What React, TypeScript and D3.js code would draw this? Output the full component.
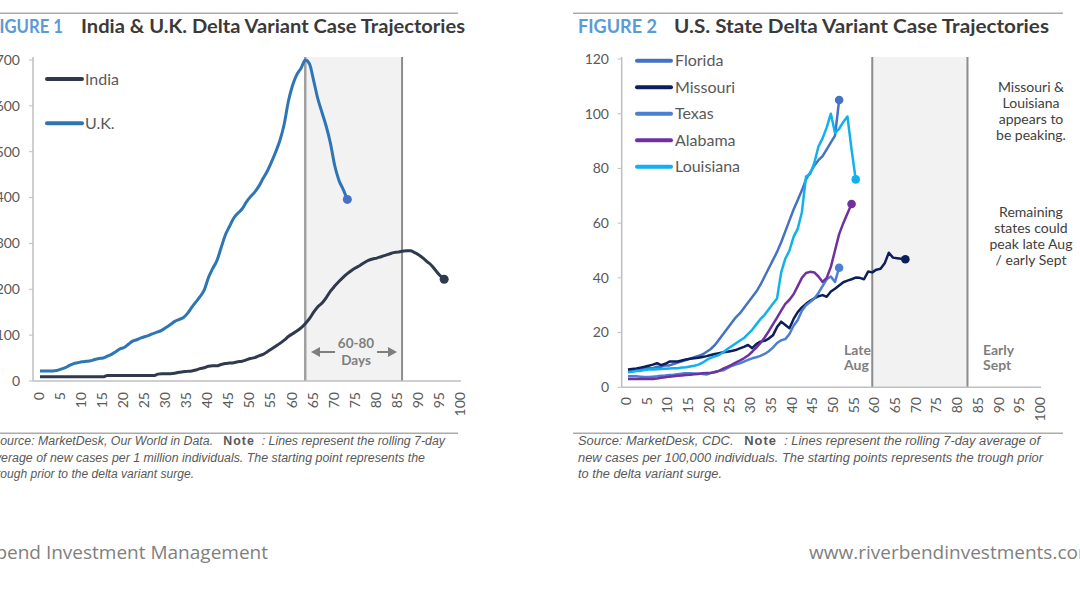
import React from 'react';
import * as d3 from 'd3';

type Pt = [number, number];

// ---------- data ----------
const xTickValues = [0, 5, 10, 15, 20, 25, 30, 35, 40, 45, 50, 55, 60, 65, 70, 75, 80, 85, 90, 95, 100];
const fig1YTicks = [0, 100, 200, 300, 400, 500, 600, 700];
const fig2YTicks = [0, 20, 40, 60, 80, 100, 120];

// Figure 1: rolling 7-day avg new cases per 1M, day 0 = trough
const ukCases = [
  22, 22, 22, 22, 23, 26, 29, 34, 38, 40,
  42, 43, 44, 47, 49, 50, 54, 58, 64, 70,
  73, 80, 87, 90, 94, 97, 100, 104, 107, 111,
  117, 123, 130, 134, 138, 147, 160, 172, 184, 198,
  225, 245, 262, 290, 318, 337, 355, 366, 375, 390,
  402, 412, 425, 442, 458, 478, 500, 525, 560, 610,
  645, 668, 682, 700, 692, 655, 615, 585, 555, 518,
  470, 438, 418, 396,
];
const indiaCases = [
  9, 9, 9, 9, 9, 9, 9, 9, 9, 9,
  9, 9, 9, 9, 9, 9, 12, 12, 12, 12,
  12, 12, 12, 12, 12, 12, 12, 12, 15, 16,
  16, 16, 17, 19, 20, 21, 22, 24, 27, 29,
  32, 33, 33, 36, 38, 39, 40, 42, 43, 46,
  49, 51, 55, 58, 64, 70, 76, 82, 89, 97,
  103, 109, 116, 125, 136, 150, 162, 170, 182, 196,
  207, 217, 226, 234, 241, 247, 252, 258, 263, 266,
  268, 271, 274, 277, 280, 281, 283, 284, 284, 280,
  275, 268, 260, 252, 241, 230, 222,
];
const fig1Band = [63, 86];

// Figure 2: rolling 7-day avg new cases per 100k
const floridaCases = [
  6, 6, 6, 6.5, 7, 7, 7, 7.5, 7.5, 8,
  8, 8.5, 9, 9.5, 10, 10.5, 11, 11.5, 12, 13,
  14, 15.5, 17.5, 19.5, 21.5, 23.5, 25.5, 27, 29, 31,
  33, 35, 37.5, 40.5, 43.5, 46.5, 49.5, 53, 57, 61,
  65, 68.5, 72, 76, 78.5, 81, 83, 84.5, 87, 89.5,
  92, 105,
];
const missouriCases = [
  6.5, 6.7, 6.9, 7.2, 7.5, 7.9, 8.3, 8.8, 8.1, 8.6,
  9.4, 9.4, 9.4, 9.8, 10.2, 10.4, 10.6, 10.8, 11.1, 11.4,
  11.8, 12.2, 12.5, 12.8, 13, 13.3, 13.6, 14.2, 14.8, 15.5,
  14.3, 15.8, 16.7, 17, 17.8, 19, 22, 24, 22.8, 21.6,
  25, 27.5, 29.2, 30.5, 31.6, 32.5, 33.3, 33.7, 33.1, 35,
  36, 37.2, 38.4, 39, 39.5, 40.1, 40, 39.5, 42.3, 42,
  43, 43.3, 45.3, 49.2, 47.4, 47.2, 47, 46.8,
];
const texasCases = [
  4, 4, 4, 3.9, 3.8, 3.8, 3.9, 4, 4.2, 4.3,
  4.5, 4.6, 4.8, 5, 5.1, 5.1, 5, 5, 4.9, 4.7,
  5.2, 5.7, 6, 6.2, 7, 7.8, 8.3, 8.8, 9.4, 10,
  10.6, 11, 11.5, 12.2, 13.2, 14.5, 16.2, 17.2, 17.6, 19.5,
  22.5, 24.6, 28, 30, 31.2, 32.5, 34.5, 37, 39.5, 40.5,
  38.5, 43.7,
];
const alabamaCases = [
  3, 3, 3, 3, 3, 3, 3, 3.2, 3.5, 3.7,
  3.9, 4, 4.2, 4.3, 4.5, 4.6, 4.8, 4.9, 5.1, 5.2,
  5.3, 5.5, 6, 6.8, 7.5, 8.2, 9, 9.8, 10.6, 11.6,
  13, 14.5, 16.2, 18.2, 20.5, 23, 25.5, 28, 30.5, 32,
  34, 37, 40, 41.8, 42.2, 42, 40.5, 38.5, 40, 44,
  50, 56, 60, 63.5, 67,
];
const louisianaCases = [
  5.5, 5.7, 6, 6, 6.3, 6.5, 6.5, 6.6, 6.7, 6.8,
  6.9, 7, 7, 7.2, 7.3, 7.6, 7.9, 8.3, 9, 10,
  10.8, 11.3, 11.8, 12.8, 14, 15, 16, 17, 18, 19.5,
  21, 23, 25, 26.5, 28.5, 30.5, 32.5, 42, 47, 50,
  55, 58, 64, 77, 78, 82, 88, 91, 95, 100,
  93, 94.5, 97, 99, 87, 76,
];
const fig2Band = [59, 82];

const fig1Series = [
  { name: 'India', values: indiaCases, color: '#2F3A4F' },
  { name: 'U.K.', values: ukCases, color: '#2E75B6' },
];
const fig2Series = [
  { name: 'Florida', values: floridaCases, color: '#4472C4' },
  { name: 'Missouri', values: missouriCases, color: '#0C1E5B' },
  { name: 'Texas', values: texasCases, color: '#4C7ED3' },
  { name: 'Alabama', values: alabamaCases, color: '#7030A0' },
  { name: 'Louisiana', values: louisianaCases, color: '#11B0EE' },
];

const toPts = (vals: number[]): Pt[] => vals.map((v, i) => [i, v] as Pt);

const GOTHIC = "Lato, 'DejaVu Sans', sans-serif";
const ARIAL = "'Liberation Sans', Arial, sans-serif";
const FOOT = "'Open Sans', 'Noto Sans', sans-serif";
const LABEL = '#595959';
const AXIS = '#BFBFBF';

function ArrowHead({ x, y, dir }: { x: number; y: number; dir: number }) {
  const p = `M${x},${y} L${x - dir * 9},${y - 5} L${x - dir * 9},${y + 5} Z`;
  return <path d={p} fill="#7F7F7F" />;
}

function Figure1() {
  const x = d3.scaleLinear().domain([0, 100]).range([40, 461]);
  const y = d3.scaleLinear().domain([0, 700]).range([381, 60]);
  const line = d3.line<Pt>().x((d) => x(d[0])).y((d) => y(d[1])).curve(d3.curveMonotoneX);
  const axisX0 = 33;
  const bandTop = 57;
  return (
    <g>
      <rect x={x(fig1Band[0])} y={bandTop} width={x(fig1Band[1]) - x(fig1Band[0])} height={y(0) - bandTop} fill="#F2F2F2" />
      <line x1={x(fig1Band[0])} x2={x(fig1Band[0])} y1={bandTop} y2={y(0)} stroke="#A0A0A0" strokeWidth={2.5} />
      <line x1={x(fig1Band[1])} x2={x(fig1Band[1])} y1={bandTop} y2={y(0)} stroke="#8C8C8C" strokeWidth={2} />
      <line x1={axisX0} x2={axisX0} y1={57} y2={y(0)} stroke={AXIS} strokeWidth={1.5} />
      <line x1={axisX0} x2={461} y1={y(0)} y2={y(0)} stroke={AXIS} strokeWidth={1.5} />
      {fig1YTicks.map((t) => (
        <g key={t}>
          <line x1={axisX0 - 4} x2={axisX0} y1={y(t)} y2={y(t)} stroke={AXIS} strokeWidth={1} />
          <text x={20} y={y(t)} dy="0.35em" textAnchor="end" fontFamily={GOTHIC} fontSize={14} fill={LABEL}>{t}</text>
        </g>
      ))}
      {xTickValues.map((t) => (
        <text key={t} transform={`translate(${x(t) - 1},392) rotate(-90)`} dy="0.35em" textAnchor="end" fontFamily={GOTHIC} fontSize={14} fill={LABEL}>{t}</text>
      ))}
      <line x1={335} x2={318} y1={352} y2={352} stroke="#7F7F7F" strokeWidth={2} />
      <ArrowHead x={311} y={352} dir={-1} />
      <line x1={377} x2={390} y1={352} y2={352} stroke="#7F7F7F" strokeWidth={2} />
      <ArrowHead x={397} y={352} dir={1} />
      <text x={356} y={348} textAnchor="middle" fontFamily={GOTHIC} fontWeight="bold" fontSize={13.5} fill="#7F7F7F">60-80</text>
      <text x={356} y={365} textAnchor="middle" fontFamily={GOTHIC} fontWeight="bold" fontSize={13.5} fill="#7F7F7F">Days</text>
      {fig1Series.map((s) => {
        const pts = toPts(s.values);
        const last = pts[pts.length - 1];
        return (
          <g key={s.name}>
            <path d={line(pts) || ''} fill="none" stroke={s.color} strokeWidth={3} strokeLinejoin="round" />
            <circle cx={x(last[0])} cy={y(last[1])} r={4.5} fill={s.name === 'U.K.' ? '#4472C4' : s.color} />
          </g>
        );
      })}
      {fig1Series.map((s, i) => {
        const ly = 79 + i * 44.3;
        return (
          <g key={s.name}>
            <line x1={47} x2={82} y1={ly} y2={ly} stroke={s.color} strokeWidth={4} strokeLinecap="round" />
            <text x={85} y={ly} dy="0.36em" fontFamily={GOTHIC} fontSize={16} fill={LABEL}>{s.name}</text>
          </g>
        );
      })}
    </g>
  );
}

function Figure2() {
  const x = d3.scaleLinear().domain([0, 100]).range([628, 1042]);
  const y = d3.scaleLinear().domain([0, 120]).range([387.3, 59]);
  const line = d3.line<Pt>().x((d) => x(d[0])).y((d) => y(d[1]));
  const axisX0 = 621.7;
  const bandTop = 57;
  return (
    <g>
      <text x={844} y={355} fontFamily={GOTHIC} fontWeight="bold" fontSize={14} fill="#7F7F7F">Late</text>
      <text x={844} y={370} fontFamily={GOTHIC} fontWeight="bold" fontSize={14} fill="#7F7F7F">Aug</text>
      <rect x={x(fig2Band[0])} y={bandTop} width={x(fig2Band[1]) - x(fig2Band[0])} height={y(0) - bandTop} fill="#F2F2F2" />
      <line x1={x(fig2Band[0])} x2={x(fig2Band[0])} y1={bandTop} y2={y(0)} stroke="#8C8C8C" strokeWidth={2} />
      <line x1={x(fig2Band[1])} x2={x(fig2Band[1])} y1={bandTop} y2={y(0)} stroke="#8C8C8C" strokeWidth={2} />
      <text x={983} y={355} fontFamily={GOTHIC} fontWeight="bold" fontSize={14} fill="#7F7F7F">Early</text>
      <text x={983} y={370} fontFamily={GOTHIC} fontWeight="bold" fontSize={14} fill="#7F7F7F">Sept</text>
      <line x1={axisX0} x2={axisX0} y1={57} y2={y(0)} stroke={AXIS} strokeWidth={1.5} />
      <line x1={axisX0} x2={1041} y1={y(0)} y2={y(0)} stroke={AXIS} strokeWidth={1.5} />
      {fig2YTicks.map((t) => (
        <g key={t}>
          <line x1={axisX0 - 4} x2={axisX0} y1={y(t)} y2={y(t)} stroke={AXIS} strokeWidth={1} />
          <text x={609} y={y(t)} dy="0.35em" textAnchor="end" fontFamily={GOTHIC} fontSize={14} fill={LABEL}>{t}</text>
        </g>
      ))}
      {xTickValues.map((t) => (
        <text key={t} transform={`translate(${x(t) - 2},397) rotate(-90)`} dy="0.35em" textAnchor="end" fontFamily={GOTHIC} fontSize={14} fill={LABEL}>{t}</text>
      ))}
      {fig2Series.map((s) => {
        const pts = toPts(s.values);
        const last = pts[pts.length - 1];
        return (
          <g key={s.name}>
            <path d={line(pts) || ''} fill="none" stroke={s.color} strokeWidth={2.5} strokeLinejoin="round" />
            <circle cx={x(last[0])} cy={y(last[1])} r={4.3} fill={s.color} />
          </g>
        );
      })}
      {fig2Series.map((s, i) => {
        const ly = 60.7 + i * 26.5;
        return (
          <g key={s.name}>
            <line x1={637} x2={671} y1={ly} y2={ly} stroke={s.color} strokeWidth={4} strokeLinecap="round" />
            <text x={675} y={ly} dy="0.36em" fontFamily={GOTHIC} fontSize={16} fill={LABEL}>{s.name}</text>
          </g>
        );
      })}
      {['Missouri &', 'Louisiana', 'appears to', 'be peaking.'].map((t, i) => (
        <text key={t} x={1031} y={92 + i * 16} textAnchor="middle" fontFamily={GOTHIC} fontSize={14} fill="#404040">{t}</text>
      ))}
      {['Remaining', 'states could', 'peak late Aug', '/ early Sept'].map((t, i) => (
        <text key={t} x={1031} y={216.5 + i * 16.2} textAnchor="middle" fontFamily={GOTHIC} fontSize={14} fill="#404040">{t}</text>
      ))}
    </g>
  );
}

function Note({ x, y, len, pre, post, bold }: { x: number; y: number; len: number; pre: string; post?: string; bold?: boolean }) {
  return (
    <text x={x} y={y} textLength={len} lengthAdjust="spacingAndGlyphs" fontFamily={ARIAL} fontSize={12.5} fontStyle="italic" fill="#595959" style={{ whiteSpace: 'pre' }}>
      {pre}
      {bold ? <tspan fontStyle="normal" fontWeight="bold" letterSpacing={1}>Note</tspan> : null}
      {post}
    </text>
  );
}

export default function App() {
  return (
    <svg width={1080} height={616} style={{ position: 'absolute', left: 0, top: 0, background: '#fff' }}>
      <rect width={1080} height={616} fill="#fff" />
      <line x1={0} x2={458} y1={13.3} y2={13.3} stroke="#ABABAB" strokeWidth={1.6} />
      <line x1={573} x2={1063} y1={13.3} y2={13.3} stroke="#ABABAB" strokeWidth={1.6} />
      <text x={-10} y={32.5} textLength={73} lengthAdjust="spacingAndGlyphs" fontFamily={GOTHIC} fontWeight="bold" fontSize={19.5} fill="#5B9BD5">FIGURE 1</text>
      <text x={81} y={32.5} textLength={384} lengthAdjust="spacingAndGlyphs" fontFamily={GOTHIC} fontWeight="bold" fontSize={19.5} fill="#3A3A3A">India &amp; U.K. Delta Variant Case Trajectories</text>
      <text x={578} y={32.5} textLength={79} lengthAdjust="spacingAndGlyphs" fontFamily={GOTHIC} fontWeight="bold" fontSize={19.5} fill="#5B9BD5">FIGURE 2</text>
      <text x={674} y={32.5} textLength={375} lengthAdjust="spacingAndGlyphs" fontFamily={GOTHIC} fontWeight="bold" fontSize={19.5} fill="#3A3A3A">U.S. State Delta Variant Case Trajectories</text>
      <Figure1 />
      <Figure2 />
      <line x1={0} x2={458} y1={433.3} y2={433.3} stroke="#ABABAB" strokeWidth={1.6} />
      <line x1={573} x2={1063} y1={433.3} y2={433.3} stroke="#ABABAB" strokeWidth={1.6} />
      <Note x={-8} y={445} len={453} pre="Source: MarketDesk, Our World in Data.   " bold post="  : Lines represent the rolling 7-day" />
      <Note x={-12} y={461.5} len={437} pre="average of new cases per 1 million individuals. The starting point represents the" />
      <Note x={-7} y={478} len={201} pre="trough prior to the delta variant surge." />
      <Note x={578} y={445} len={462} pre="Source: MarketDesk, CDC.   " bold post="  : Lines represent the rolling 7-day average of" />
      <Note x={578} y={461.5} len={465} pre="new cases per 100,000 individuals. The starting points represents the trough prior" />
      <Note x={578} y={478} len={144} pre="to the delta variant surge." />
      <text x={268} y={559} textAnchor="end" fontFamily={FOOT} fontSize={19} fill="#7F7F7F">Riverbend Investment Management</text>
      <text x={809} y={559} fontFamily={FOOT} fontSize={19} fill="#7F7F7F">www.riverbendinvestments.com</text>
    </svg>
  );
}
